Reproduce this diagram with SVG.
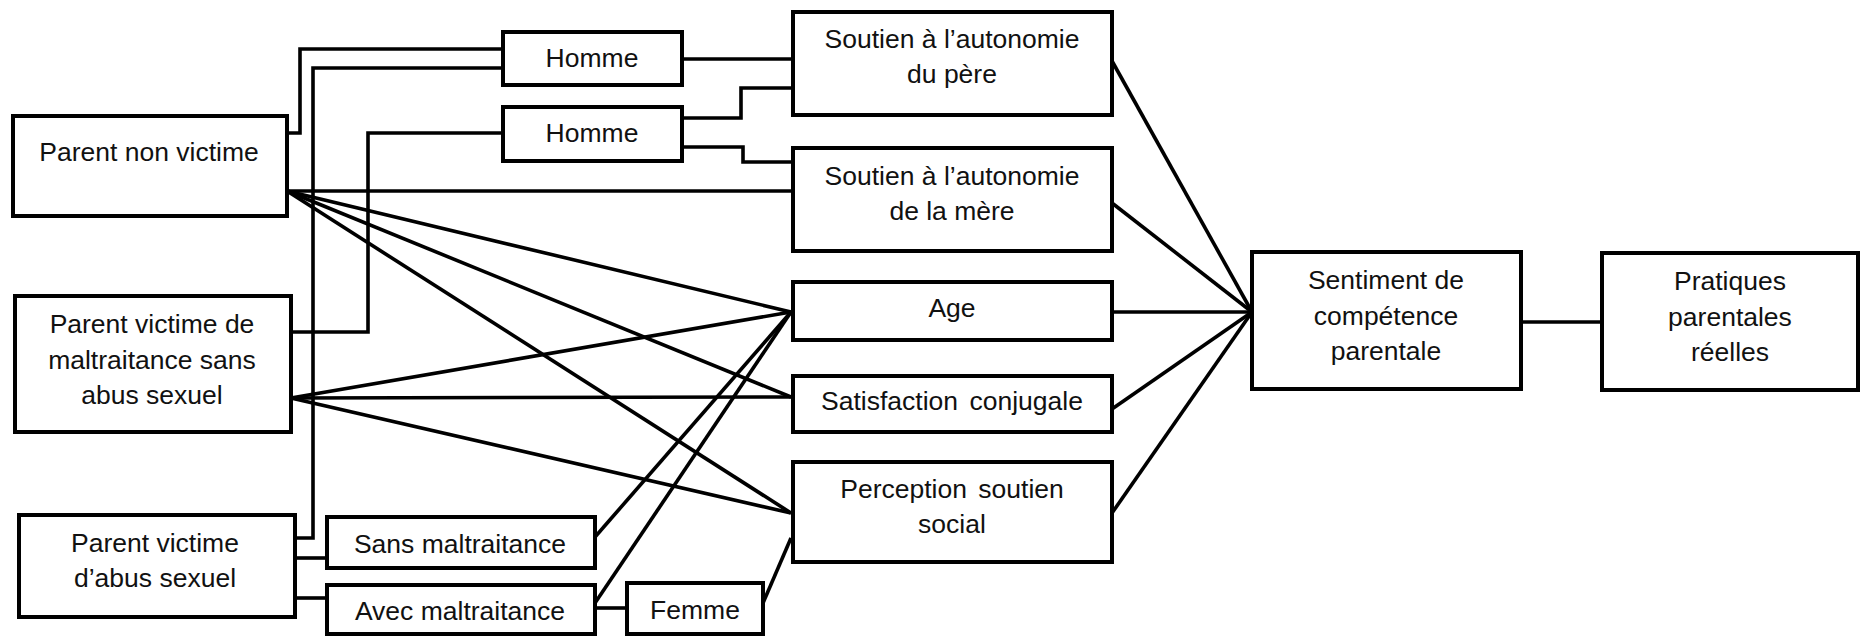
<svg xmlns="http://www.w3.org/2000/svg" width="1861" height="636" viewBox="0 0 1861 636">
<style>
.box{fill:#fff;stroke:#000;stroke-width:4}
.t{font-family:"Liberation Sans",Arial,sans-serif;font-size:26.5px;fill:#111;text-anchor:middle}
.c{fill:none;stroke:#000;stroke-width:3.6;stroke-linejoin:miter}
</style>
<rect width="1861" height="636" fill="#fff"/>
<g id="connectors">
<polyline class="c" points="287,133 300,133 300,49 503,49"/>
<polyline class="c" points="295,538 313,538 313,68 503,68"/>
<polyline class="c" points="291,332 368,332 368,133 503,133"/>
<polyline class="c" points="682,59 793,59"/>
<polyline class="c" points="682,118 741,118 741,88 793,88"/>
<polyline class="c" points="682,147 743,147 743,162 793,162"/>
<line class="c" x1="287" y1="191" x2="793" y2="191"/>
<line class="c" x1="287" y1="191" x2="791" y2="312"/>
<line class="c" x1="287" y1="191" x2="791" y2="397"/>
<line class="c" x1="287" y1="191" x2="791" y2="513"/>
<line class="c" x1="291" y1="398" x2="791" y2="312"/>
<line class="c" x1="291" y1="398" x2="791" y2="397"/>
<line class="c" x1="291" y1="398" x2="791" y2="513"/>
<line class="c" x1="295" y1="558" x2="327" y2="558"/>
<line class="c" x1="295" y1="598" x2="327" y2="598"/>
<line class="c" x1="595" y1="537" x2="791" y2="312"/>
<line class="c" x1="595" y1="603" x2="791" y2="312"/>
<line class="c" x1="595" y1="608" x2="627" y2="608"/>
<line class="c" x1="763" y1="603" x2="791" y2="538"/>
<line class="c" x1="1112" y1="61" x2="1252" y2="312"/>
<line class="c" x1="1112" y1="203" x2="1252" y2="312"/>
<line class="c" x1="1112" y1="312" x2="1252" y2="312"/>
<line class="c" x1="1112" y1="409" x2="1252" y2="312"/>
<line class="c" x1="1112" y1="513" x2="1252" y2="312"/>
<line class="c" x1="1521" y1="322" x2="1602" y2="322"/>
</g>
<g id="parent-non-victime"><rect class="box" x="13" y="116" width="274" height="100"/><text class="t" x="149" y="161">Parent non victime</text></g>
<g id="parent-victime-maltraitance"><rect class="box" x="15" y="296" width="276" height="136"/><text class="t" x="152" y="333">Parent victime de</text><text class="t" x="152" y="369">maltraitance sans</text><text class="t" x="152" y="404">abus sexuel</text></g>
<g id="parent-victime-abus"><rect class="box" x="19" y="515" width="276" height="102"/><text class="t" x="155" y="552">Parent victime</text><text class="t" x="155" y="587">d’abus sexuel</text></g>
<g id="homme1"><rect class="box" x="503" y="32" width="179" height="53"/><text class="t" x="592" y="67">Homme</text></g>
<g id="homme2"><rect class="box" x="503" y="107" width="179" height="54"/><text class="t" x="592" y="142">Homme</text></g>
<g id="sans-maltraitance"><rect class="box" x="327" y="517" width="268" height="51"/><text class="t" x="460" y="553">Sans maltraitance</text></g>
<g id="avec-maltraitance"><rect class="box" x="327" y="585" width="268" height="49"/><text class="t" x="460" y="620">Avec maltraitance</text></g>
<g id="femme"><rect class="box" x="627" y="583" width="136" height="51"/><text class="t" x="695" y="619">Femme</text></g>
<g id="soutien-pere"><rect class="box" x="793" y="12" width="319" height="103"/><text class="t" x="952" y="48">Soutien à l’autonomie</text><text class="t" x="952" y="83">du père</text></g>
<g id="soutien-mere"><rect class="box" x="793" y="148" width="319" height="103"/><text class="t" x="952" y="185">Soutien à l’autonomie</text><text class="t" x="952" y="220">de la mère</text></g>
<g id="age"><rect class="box" x="793" y="282" width="319" height="58"/><text class="t" x="952" y="317">Age</text></g>
<g id="satisfaction"><rect class="box" x="793" y="376" width="319" height="56"/><text class="t" x="952" y="410" word-spacing="4">Satisfaction conjugale</text></g>
<g id="perception"><rect class="box" x="793" y="462" width="319" height="100"/><text class="t" x="952" y="498" word-spacing="4">Perception soutien</text><text class="t" x="952" y="533">social</text></g>
<g id="sentiment"><rect class="box" x="1252" y="252" width="269" height="137"/><text class="t" x="1386" y="289">Sentiment de</text><text class="t" x="1386" y="325">compétence</text><text class="t" x="1386" y="360">parentale</text></g>
<g id="pratiques"><rect class="box" x="1602" y="253" width="256" height="137"/><text class="t" x="1730" y="290">Pratiques</text><text class="t" x="1730" y="326">parentales</text><text class="t" x="1730" y="361">réelles</text></g>
</svg>
